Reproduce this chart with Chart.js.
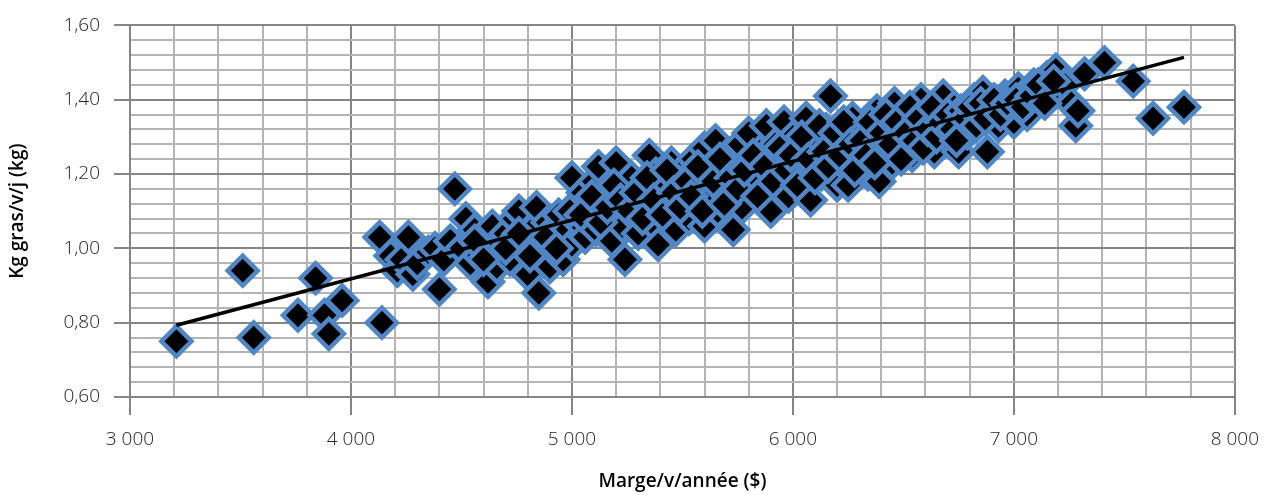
<!DOCTYPE html>
<html>
<head>
<meta charset="utf-8">
<script src="https://cdn.jsdelivr.net/npm/chart.js@4"></script>
<style>body{margin:0;background:#fff}</style>
</head>
<body>
<canvas id="chart" width="1272" height="495"></canvas>
<script>
// Marge/v/année ($) and Kg gras/v/j (kg)
const marge = [
  3210, 3510, 3560, 3760, 3840, 3880, 3900, 3960, 4140,
  4130, 4180, 4210, 4230, 4260, 4280, 4300, 4350, 4380, 4400, 4420,
  4450, 4470, 4500, 4520, 4540, 4560, 4580, 4600, 4620, 4640, 4660, 4680, 4700,
  4720, 4740, 4760, 4780, 4800, 4820, 4840, 4850, 4870, 4890, 4900, 4920, 4940, 4960, 4980, 5000, 5000,
  5020, 5030, 5050, 5060, 5080, 5100, 5110, 5120, 5140, 5150, 5170, 5180, 5200, 5210, 5230, 5240, 5250, 5270, 5280, 5300,
  5310, 5330, 5350, 5360, 5380, 5390, 5400, 5420, 5440, 5450, 5470, 5480, 5500, 5510, 5530, 5550, 5560, 5580, 5600, 5600,
  5620, 5630, 5650, 5660, 5680, 5700, 5710, 5730, 5740, 5760, 5770, 5790, 5800, 5810, 5830, 5850, 5860, 5880, 5890, 5900,
  5920, 5930, 5950, 5960, 5980, 6000, 6010, 6030, 6050, 6060, 6080, 6090, 6110, 6130, 6150, 6170, 6180, 6200,
  6220, 6240, 6250, 6270, 6290, 6300, 6320, 6340, 6360, 6380, 6390, 6410, 6430, 6450, 6460, 6480, 6500,
  6520, 6540, 6560, 6580, 6600, 6620, 6640, 6660, 6680, 6690, 6710, 6730, 6750, 6770, 6790,
  6820, 6840, 6860, 6880, 6900, 6930, 6960, 6990, 7000, 7020, 7050, 7060, 7090, 7120, 7150, 7170, 7190,
  7230, 7260, 7280, 7290, 7320, 7410, 7540, 7630, 7770,
  4560, 4600, 4700, 4760, 4810, 4880, 4930, 4990,
  5040, 5090, 5130, 5160, 5190, 5220, 5260, 5290,
  5320, 5340, 5370, 5410, 5430, 5460, 5490, 5520,
  5540, 5570, 5590, 5640, 5670, 5690, 5720, 5750,
  5780, 5820, 5840, 5870, 5910, 5940, 5970, 5990,
  6020, 6040, 6070, 6100, 6120, 6140, 6160, 6190,
  6210, 6230, 6260, 6280, 6310, 6330, 6350, 6370,
  6400, 6420, 6440, 6470, 6490, 6510, 6530, 6550,
  6570, 6590, 6610, 6630, 6650, 6670, 6700, 6720,
  6740, 6760, 6780, 6800, 6830, 6850, 6870, 6910,
  6940, 6970, 7010, 7040, 7080, 7110, 7140, 7180
];
const kgGras = [
  0.75, 0.94, 0.76, 0.82, 0.92, 0.82, 0.77, 0.86, 0.80,
  1.03, 0.98, 0.94, 0.97, 1.03, 0.93, 0.96, 0.99, 1.00, 0.89, 0.97,
  1.02, 1.16, 1.00, 1.08, 0.96, 1.05, 0.98, 1.03, 0.91, 1.06, 0.95, 1.01, 1.04,
  0.97, 1.08, 1.10, 1.00, 0.93, 1.05, 1.11, 0.88, 0.99, 1.07, 0.95, 1.03, 1.09, 0.97, 1.05, 1.19, 1.01,
  1.12, 1.07, 1.15, 1.03, 1.10, 1.18, 1.05, 1.22, 1.13, 1.08, 1.16, 1.02, 1.23, 1.11, 1.06, 0.97, 1.14, 1.19, 1.09, 1.04,
  1.16, 1.12, 1.25, 1.07, 1.20, 1.01, 1.14, 1.18, 1.10, 1.23, 1.05, 1.16, 1.21, 1.12, 1.08, 1.24, 1.15, 1.19, 1.27, 1.06,
  1.13, 1.22, 1.29, 1.10, 1.17, 1.25, 1.14, 1.05, 1.20, 1.28, 1.11, 1.23, 1.31, 1.16, 1.19, 1.26, 1.13, 1.33, 1.21, 1.10,
  1.28, 1.17, 1.24, 1.34, 1.14, 1.30, 1.21, 1.26, 1.18, 1.35, 1.13, 1.23, 1.29, 1.20, 1.32, 1.41, 1.25, 1.17,
  1.30, 1.22, 1.17, 1.35, 1.27, 1.24, 1.32, 1.20, 1.29, 1.37, 1.18, 1.26, 1.33, 1.23, 1.39, 1.30, 1.27,
  1.35, 1.25, 1.31, 1.40, 1.28, 1.34, 1.26, 1.37, 1.41, 1.32, 1.29, 1.38, 1.26, 1.34, 1.31,
  1.40, 1.36, 1.42, 1.26, 1.38, 1.33, 1.41, 1.37, 1.34, 1.43, 1.39, 1.36, 1.44, 1.40, 1.46, 1.42, 1.48,
  1.44, 1.39, 1.33, 1.37, 1.47, 1.50, 1.45, 1.35, 1.38,
  1.02, 0.97, 1.00, 1.04, 0.98, 1.03, 1.00, 1.10,
  1.09, 1.14, 1.07, 1.11, 1.17, 1.13, 1.10, 1.15,
  1.08, 1.19, 1.13, 1.09, 1.21, 1.15, 1.11, 1.18,
  1.14, 1.22, 1.10, 1.18, 1.24, 1.12, 1.19, 1.16,
  1.21, 1.25, 1.14, 1.22, 1.18, 1.27, 1.21, 1.25,
  1.17, 1.30, 1.24, 1.19, 1.33, 1.26, 1.22, 1.31,
  1.25, 1.34, 1.28, 1.21, 1.29, 1.25, 1.34, 1.23,
  1.31, 1.36, 1.28, 1.34, 1.24, 1.31, 1.38, 1.29,
  1.35, 1.27, 1.32, 1.38, 1.30, 1.34, 1.36, 1.32,
  1.29, 1.37, 1.35, 1.38, 1.33, 1.39, 1.35, 1.40,
  1.36, 1.39, 1.40, 1.38, 1.41, 1.44, 1.39, 1.45
];

// trend line end points
const trendX = [3210, 7770];
const trendY = [0.793, 1.514];

const points = marge.map((x, i) => ({ x: x, y: kgGras[i] }));
const trend = trendX.map((x, i) => ({ x: x, y: trendY[i] }));

const minorGrid = "#b4b4b4";
const majorGrid = "#858585";

const ctx = document.getElementById("chart").getContext("2d");

new Chart(ctx, {
  type: "scatter",
  data: {
    datasets: [{
      type: "line",
      data: trend,
      borderColor: "#000",
      borderWidth: 3.5,
      pointRadius: 0,
      fill: false,
      order: 0
    }, {
      data: points,
      pointStyle: "rectRot",
      pointRadius: 15,
      backgroundColor: "#000",
      borderColor: "#4f86c6",
      borderWidth: 4.5,
      order: 1
    }]
  },
  options: {
    responsive: false,
    animation: false,
    layout: { padding: { top: 23, right: 34, left: 0, bottom: 0 } },
    plugins: {
      legend: { display: false },
      tooltip: { enabled: false }
    },
    scales: {
      x: {
        type: "linear",
        min: 3000,
        max: 8000,
        afterFit: (scale) => { scale.height = 98; },
        border: { color: majorGrid, width: 2 },
        grid: {
          lineWidth: 2,
          tickLength: 18,
          color: (c) => c.tick && c.tick.value % 1000 === 0 ? majorGrid : minorGrid,
          tickColor: (c) => c.tick && c.tick.value % 1000 === 0 ? majorGrid : "rgba(0,0,0,0)"
        },
        ticks: {
          stepSize: 200,
          autoSkip: false,
          maxRotation: 0,
          padding: 13,
          color: "#222",
          font: { family: "Open Sans", size: 19, weight: "300" },
          callback: (v) => v % 1000 === 0 ? String(v).replace(/\B(?=(\d{3})+(?!\d))/g, " ") : ""
        },
        title: {
          display: true,
          text: "Marge/v/année ($)",
          color: "#000",
          font: { family: "Open Sans", size: 19, weight: "600" },
          padding: { top: 0, bottom: 2 }
        }
      },
      y: {
        min: 0.6,
        max: 1.6,
        afterFit: (scale) => { scale.width = 130; },
        border: { color: majorGrid, width: 2 },
        grid: {
          lineWidth: 2,
          tickLength: 16,
          color: (c) => c.tick && Math.round(c.tick.value * 100) % 20 === 0 ? majorGrid : minorGrid,
          tickColor: (c) => c.tick && Math.round(c.tick.value * 100) % 20 === 0 ? majorGrid : "rgba(0,0,0,0)"
        },
        ticks: {
          stepSize: 0.04,
          autoSkip: false,
          padding: 14,
          color: "#222",
          font: { family: "Open Sans", size: 19, weight: "300" },
          callback: (v) => Math.round(v * 100) % 20 === 0 ? (Math.round(v * 100) / 100).toFixed(2).replace(".", ",") : ""
        },
        title: {
          display: true,
          text: "Kg gras/v/j (kg)",
          color: "#000",
          font: { family: "Open Sans", size: 19, weight: "600" },
          padding: { top: 6, bottom: 0 }
        }
      }
    }
  }
});
</script>
</body>
</html>
